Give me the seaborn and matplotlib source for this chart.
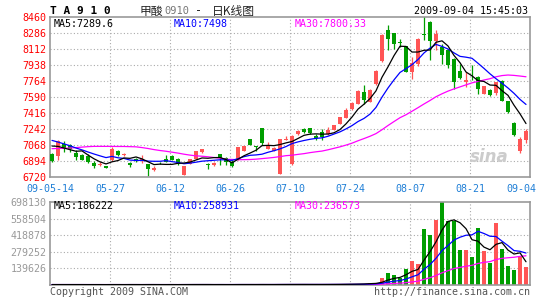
import numpy as np
import pandas as pd
import matplotlib
matplotlib.use("Agg")
import matplotlib.pyplot as plt
import seaborn as sns

# ---------------- data ----------------
date_labels = ["09-05-14", "05-27", "06-12", "06-26", "07-10", "07-24", "08-07", "08-21", "09-04"]
price_ticks = [8460, 8286, 8112, 7938, 7764, 7590, 7416, 7242, 7068, 6894, 6720]
vol_ticks = [698130, 558504, 418878, 279252, 139626]

opens = [6974, 6948, 7075, 7068, 6981, 6963, 6948, 6876, 6847, 6840,
         6901, 7006, 6956, 6876, 6919, 6905, 6858, 6792, 6876, 6919,
         6952, 6919, 6745, 6865, 6916, 6988, 6854, 6851, 6970, 6930,
         6880, 6905, 7003, 7130, 7050, 7249, 7025, 7003, 6753, 7123,
         6858, 7184, 7238, 7249, 7166, 7206, 7184, 7231, 7296, 7365,
         7456, 7514, 7641, 7539, 7728, 7978, 8322, 8286, 8184, 8141,
         7862, 7952, 8272, 8409, 8199, 8134, 8097, 8007, 7869, 7753,
         7840, 7808, 7626, 7670, 7637, 7764, 7546, 7311, 6999, 7119]
highs = [6980, 7118, 7108, 7075, 7010, 6974, 6974, 6890, 6880, 6843,
         7046, 7010, 6978, 6880, 6930, 6963, 6865, 6843, 6880, 6963,
         6963, 6925, 6840, 6920, 7005, 7025, 6872, 6887, 6975, 6935,
         6905, 7050, 7060, 7135, 7061, 7252, 7104, 7043, 7137, 7170,
         7173, 7228, 7249, 7252, 7184, 7238, 7267, 7290, 7372, 7467,
         7532, 7663, 7720, 7677, 7880, 8272, 8377, 8290, 8221, 8148,
         8025, 8228, 8467, 8413, 8322, 8170, 8115, 8010, 7952, 7862,
         7942, 7815, 7710, 7675, 7757, 7778, 7550, 7315, 7155, 7246]
lows = [6885, 6902, 6992, 6992, 6908, 6901, 6872, 6821, 6843, 6814,
        6898, 6950, 6952, 6825, 6883, 6876, 6731, 6790, 6865, 6880,
        6905, 6847, 6742, 6860, 6912, 6985, 6803, 6845, 6851, 6851,
        6833, 6900, 7000, 7065, 7000, 7072, 7020, 7000, 6750, 7120,
        6855, 7180, 7195, 7190, 7126, 7126, 7180, 7228, 7292, 7360,
        7452, 7510, 7514, 7535, 7724, 7974, 8105, 8116, 8134, 7858,
        7782, 7924, 8206, 7989, 8097, 7952, 7905, 7681, 7782, 7699,
        7771, 7626, 7622, 7605, 7608, 7543, 7416, 7170, 6981, 7090]
closes = [6890, 7108, 7039, 7028, 6934, 6909, 6883, 6836, 6865, 6818,
          7021, 6956, 6974, 6847, 6894, 6912, 6803, 6821, 6868, 6883,
          6908, 6865, 6836, 6916, 6999, 7021, 6850, 6869, 6923, 6887,
          6843, 7043, 7057, 7068, 7043, 7093, 7061, 7039, 7130, 7130,
          7170, 7224, 7213, 7195, 7141, 7155, 7231, 7285, 7369, 7449,
          7528, 7659, 7557, 7666, 7873, 8268, 8224, 8170, 8177, 7862,
          7960, 8224, 8265, 8195, 8279, 8043, 7942, 7753, 7800, 7771,
          7836, 7681, 7706, 7608, 7753, 7546, 7427, 7173, 7137, 7220]

ma5 = [7057, 7053, 7035, 7017, 7000, 7004, 6959, 6918, 6885, 6862,
       6885, 6899, 6927, 6923, 6938, 6917, 6886, 6855, 6860, 6857,
       6857, 6869, 6872, 6882, 6905, 6927, 6924, 6931, 6932, 6910,
       6874, 6913, 6951, 6980, 7011, 7061, 7064, 7061, 7073, 7091,
       7106, 7139, 7173, 7186, 7189, 7186, 7187, 7201, 7236, 7298,
       7372, 7458, 7512, 7572, 7657, 7805, 7918, 8040, 8142, 8140,
       8079, 8079, 8098, 8101, 8185, 8201, 8145, 8042, 7963, 7862,
       7820, 7768, 7759, 7720, 7717, 7659, 7608, 7501, 7407, 7301]
ma10 = [7118, 7100, 7080, 7060, 7035, 7015, 6992, 6970, 6950, 6931,
        6944, 6929, 6922, 6904, 6900, 6901, 6893, 6891, 6891, 6898,
        6887, 6878, 6864, 6871, 6881, 6892, 6897, 6902, 6907, 6907,
        6901, 6919, 6941, 6956, 6960, 6968, 6989, 7006, 7026, 7051,
        7083, 7102, 7117, 7130, 7140, 7146, 7163, 7187, 7211, 7243,
        7279, 7323, 7357, 7404, 7477, 7589, 7688, 7776, 7857, 7898,
        7942, 7998, 8069, 8122, 8162, 8140, 8112, 8070, 8032, 8023,
        8011, 7957, 7901, 7842, 7789, 7740, 7688, 7630, 7564, 7509]
ma30 = [7028, 7030, 7032, 7035, 7040, 7045, 7050, 7053, 7053, 7053,
        7053, 7052, 7052, 7050, 7048, 7040, 7030, 7018, 7008, 7000,
        6990, 6980, 6968, 6958, 6950, 6946, 6940, 6932, 6925, 6912,
        6911, 6908, 6909, 6910, 6914, 6920, 6926, 6933, 6942, 6952,
        6957, 6966, 6974, 6985, 6994, 7002, 7016, 7032, 7048, 7067,
        7088, 7114, 7138, 7163, 7192, 7234, 7280, 7323, 7365, 7397,
        7435, 7474, 7514, 7552, 7593, 7625, 7654, 7678, 7700, 7722,
        7744, 7759, 7775, 7789, 7810, 7823, 7829, 7825, 7818, 7810]

volumes = [3200, 4100, 3500, 3000, 3600, 2900, 3300, 3800, 2700, 3100,
           4200, 3500, 3000, 3900, 3300, 2800, 4500, 3400, 2600, 3200,
           3600, 3100, 4800, 3500, 4200, 3700, 3300, 2900, 3800, 3400,
           3500, 4600, 4000, 3800, 3300, 4400, 3900, 3600, 5200, 4300,
           5000, 4500, 4100, 4300, 3900, 4600, 5100, 5400, 6200, 7300,
           8100, 9500, 11100, 19400, 19400, 55500, 102700, 80500, 61100, 130500,
           199900, 180400, 471900, 416400, 546900, 698130, 538500, 538500, 297000, 297000,
           233200, 477500, 288700, 186000, 524700, 305400, 163800, 122100, 236000, 149900]
vma5 = [3500, 3450, 3500, 3480, 3480, 3420, 3260, 3320, 3260, 3160,
        3420, 3460, 3300, 3540, 3580, 3300, 3500, 3580, 3320, 3300,
        3460, 3180, 3460, 3640, 3840, 3860, 3900, 3520, 3580, 3420,
        3380, 3640, 3860, 3860, 3840, 4020, 3880, 3800, 4080, 4280,
        4400, 4520, 4620, 4440, 4360, 4280, 4400, 4660, 5040, 5720,
        6420, 7300, 8440, 11080, 13500, 22980, 41620, 55500, 63840, 86060,
        114940, 130480, 208760, 279820, 363100, 462746, 534366, 547686, 523806, 473826,
        380840, 368640, 318680, 296480, 342020, 356460, 293720, 260400, 270400, 195440]
vma10 = [3500, 3480, 3470, 3460, 3450, 3440, 3420, 3400, 3380, 3320,
         3420, 3360, 3310, 3400, 3370, 3360, 3480, 3440, 3430, 3440,
         3380, 3340, 3520, 3480, 3570, 3660, 3540, 3490, 3610, 3630,
         3620, 3770, 3690, 3720, 3630, 3700, 3760, 3830, 3970, 4060,
         4210, 4200, 4210, 4260, 4320, 4340, 4460, 4640, 4740, 5040,
         5350, 5850, 6550, 8060, 9610, 14700, 24460, 31970, 37460, 49780,
         68960, 86050, 132130, 171830, 224580, 288843, 332423, 378223, 401813, 418463,
         421793, 451503, 433183, 410143, 407923, 368650, 331180, 289540, 283440, 268730]
vma30 = [3500, 3500, 3490, 3490, 3480, 3480, 3470, 3470, 3470, 3460,
         3460, 3460, 3450, 3450, 3450, 3450, 3450, 3450, 3450, 3450,
         3450, 3450, 3455, 3455, 3460, 3460, 3460, 3460, 3460, 3463,
         3473, 3490, 3507, 3533, 3523, 3573, 3593, 3587, 3670, 3710,
         3737, 3770, 3807, 3820, 3840, 3900, 3920, 3987, 4107, 4243,
         4393, 4607, 4817, 5347, 5853, 7580, 10893, 13480, 15390, 19627,
         26173, 32033, 47630, 61383, 79503, 102628, 120448, 138278, 148004, 157761,
         165368, 181134, 190621, 196678, 214038, 224064, 229354, 233244, 240904, 245658]

# ---------------- styling ----------------
W, H = 545, 300
RED = "#ff5555"
GREEN = "#009e00"
BLUE = "#0000ff"
MAG = "#ff00ff"
FRAME = "#999999"
GRID = "#aaaaaa"
XLAB = "#1f7fd6"
MONO = "DejaVu Sans Mono"
CJK = ["Noto Sans CJK SC", "DejaVu Sans"]

sns.set_style("white")
plt.rcParams["font.family"] = ["DejaVu Sans Mono", "DejaVu Sans"]

df = pd.DataFrame({"i": np.arange(len(closes)), "open": opens, "high": highs,
                   "low": lows, "close": closes, "ma5": ma5, "ma10": ma10,
                   "ma30": ma30, "vol": volumes, "vma5": vma5, "vma10": vma10,
                   "vma30": vma30})
df["dir"] = np.where(df["close"] >= df["open"], "up", "down")
pal = {"up": RED, "down": GREEN}

fig = plt.figure(figsize=(W / 100, H / 100), dpi=100)
fig.patch.set_facecolor("white")


def fx(px):
    return px / W


def fy(py):
    return 1 - py / H


axp = fig.add_axes([fx(50), fy(177), 480 / W, 160 / H])
axv = fig.add_axes([fx(50), fy(285), 480 / W, 83 / H])

xmin, xmax = -1 / 3, 79 + 2 / 3
grid_x = [9 + 2 / 3 + 10 * j for j in range(7)]

# ---- price panel ----
for t in price_ticks[1:-1]:
    axp.axhline(t, color=GRID, lw=0.8, ls=(0, (1, 2)), zorder=0)
for g in grid_x:
    axp.axvline(g, color=GRID, lw=0.8, ls=(0, (1, 2)), zorder=0)

for d, col in pal.items():
    sub = df[df["dir"] == d]
    axp.vlines(sub["i"], sub["low"], sub["high"], color=col, lw=0.9, zorder=2)
    body_lo = np.minimum(sub["open"], sub["close"])
    body_h = np.maximum(np.abs(sub["close"] - sub["open"]), 9)
    axp.bar(sub["i"], body_h, bottom=body_lo, width=0.8, color=col,
            edgecolor=col, linewidth=0, zorder=3)

sns.lineplot(data=df, x="i", y="ma30", color=MAG, lw=0.9, ax=axp, zorder=4)
sns.lineplot(data=df, x="i", y="ma10", color=BLUE, lw=0.9, ax=axp, zorder=5)
sns.lineplot(data=df, x="i", y="ma5", color="black", lw=0.9, ax=axp, zorder=6)

axp.set_xlim(xmin, xmax)
axp.set_ylim(price_ticks[-1], price_ticks[0])
axp.set_yticks(price_ticks)
axp.set_yticklabels([str(t) for t in price_ticks], color="#ff0000",
                    fontsize=7.2, family=MONO)
label_pos = [xmin] + grid_x + [78.2]
axp.set_xticks(label_pos)
axp.set_xticklabels(date_labels, color=XLAB, fontsize=7.2, family=MONO)
axp.tick_params(axis="both", length=0)
axp.tick_params(axis="y", pad=2.5)
axp.tick_params(axis="x", pad=5)
axp.set_xlabel("")
axp.set_ylabel("")
for s in axp.spines.values():
    s.set_color(FRAME)
    s.set_linewidth(1.2)

# sina watermark
axp.text(0.955, 0.07, "sina", transform=axp.transAxes, ha="right", va="bottom",
         fontsize=12, color="#cccccc", style="italic", weight="bold",
         family="DejaVu Sans", zorder=1)

# ---- volume panel ----
for t in vol_ticks[1:]:
    axv.axhline(t, color=GRID, lw=0.8, ls=(0, (1, 2)), zorder=0)
for g in grid_x:
    axv.axvline(g, color=GRID, lw=0.8, ls=(0, (1, 2)), zorder=0)

sns.barplot(data=df, x="i", y="vol", hue="dir", palette=pal, native_scale=True,
            dodge=False, width=0.8, saturation=1, errorbar=None, legend=False,
            ax=axv, zorder=2, linewidth=0)
sns.lineplot(data=df, x="i", y="vma30", color=MAG, lw=0.9, ax=axv, zorder=4)
sns.lineplot(data=df, x="i", y="vma10", color=BLUE, lw=0.9, ax=axv, zorder=5)
sns.lineplot(data=df, x="i", y="vma5", color="black", lw=0.9, ax=axv, zorder=6)

axv.set_xlim(xmin, xmax)
axv.set_ylim(0, vol_ticks[0])
axv.set_yticks(vol_ticks)
axv.set_yticklabels([str(t) for t in vol_ticks], color="#999999",
                    fontsize=7.2, family=MONO)
axv.set_xticks([])
axv.tick_params(axis="both", length=0)
axv.tick_params(axis="y", pad=2.5)
axv.set_xlabel("")
axv.set_ylabel("")
for s in axv.spines.values():
    s.set_color(FRAME)
    s.set_linewidth(1.2)

# ---- texts ----
fig.text(fx(50), fy(11), "T A 9 1 0", fontsize=8, weight="bold", family=MONO,
         va="center", ha="left", color="black")
fig.text(fx(140), fy(11), "甲酸", fontsize=8.5, family=CJK, va="center", ha="left")
fig.text(fx(164), fy(11), "0910", fontsize=7.5, family=MONO, va="center",
         ha="left", color="#777777")
fig.text(fx(195), fy(11), "-", fontsize=8.5, family=MONO, va="center", ha="left")
fig.text(fx(212), fy(11), "日K线图", fontsize=8.5, family=CJK, va="center", ha="left")
fig.text(fx(528), fy(11), "2009-09-04 15:45:03", fontsize=7.2, family=MONO,
         va="center", ha="right", color="black")

fig.text(fx(54), fy(24), "MA5:7289.6", fontsize=7.2, family=MONO, va="center",
         ha="left", color="black")
fig.text(fx(174), fy(24), "MA10:7498", fontsize=7.2, family=MONO, va="center",
         ha="left", color=BLUE)
fig.text(fx(295), fy(24), "MA30:7800.33", fontsize=7.2, family=MONO, va="center",
         ha="left", color=MAG)

fig.text(fx(54), fy(206), "MA5:186222", fontsize=7.2, family=MONO, va="center",
         ha="left", color="black")
fig.text(fx(174), fy(206), "MA10:258931", fontsize=7.2, family=MONO, va="center",
         ha="left", color=BLUE)
fig.text(fx(295), fy(206), "MA30:236573", fontsize=7.2, family=MONO, va="center",
         ha="left", color=MAG)

fig.text(fx(50), fy(292), "Copyright 2009 SINA.COM", fontsize=7.2, family=MONO,
         va="center", ha="left", color="#555555")
fig.text(fx(530), fy(292), "http://finance.sina.com.cn", fontsize=7.2,
         family=MONO, va="center", ha="right", color="#555555")

fig.savefig("out.png", dpi=100, facecolor="white")
